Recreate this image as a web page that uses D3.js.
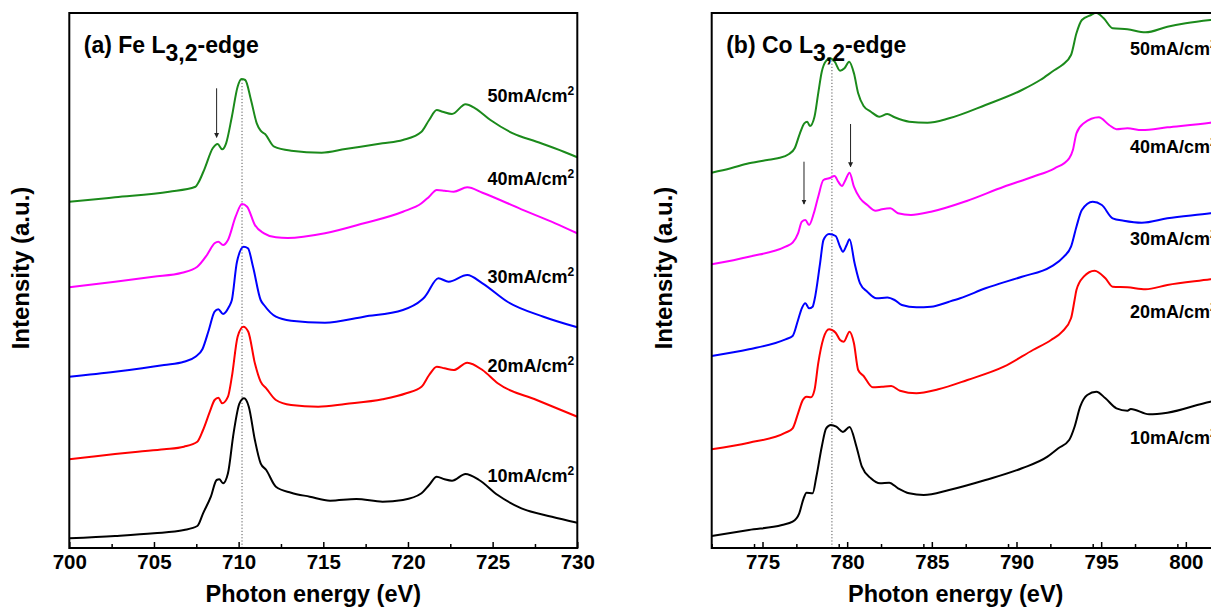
<!DOCTYPE html>
<html><head><meta charset="utf-8">
<script src="https://cdn.jsdelivr.net/npm/d3@7"></script>
<style>
body{margin:0;background:#fff;}
svg{display:block;font-family:Arial,"Liberation Sans",Helvetica,sans-serif;}
</style></head><body>
<svg id="chart" width="1211" height="607"></svg>
<script>
// ---------- DATA ----------
const feTicks = [700,705,710,715,720,725,730];
const coTicks = [775,780,785,790,795,800];
const currentLabels = ["10mA/cm","20mA/cm","30mA/cm","40mA/cm","50mA/cm"];
const seriesColors = ["#000000","#ff0000","#0000ff","#ff00ff","#1b8a1b"];

// Fe L-edge spectra: [photon energy (eV), intensity (a.u., offset stacked)]
const fe10 = [[700,9.7],[702.7,12],[705,14.7],[706.77,18],[707.56,22],[707.9,34.7],[708.36,51.3],[708.7,68],[708.86,68.7],[709.08,64.7],[709.37,74.7],[709.7,114.7],[710.05,144.7],[710.32,149.7],[710.6,141.3],[710.96,108],[711.3,84.7],[711.63,78],[712.2,61.3],[713.1,55.3],[714.2,51.3],[715.4,47.3],[716.95,49],[718.5,46.3],[719.7,48],[720.8,54.7],[721.25,63],[721.7,71.3],[722.16,68.7],[722.6,67.3],[723.4,74],[724.2,68],[725.3,53],[726.7,39.7],[728.5,31.3],[730,25.3]];
const fe20 = [[700,88.7],[701.3,91.3],[702.7,94],[704.05,96.3],[705.6,98.7],[706.77,101.3],[707.56,106.3],[707.9,118],[708.3,136.3],[708.58,148],[708.8,150.3],[709.03,144.7],[709.37,151.3],[709.6,171.3],[709.94,211.3],[710.28,221.3],[710.57,216.3],[710.96,184.7],[711.3,166.3],[711.63,159.7],[712.2,148],[713.1,143],[714.7,141.3],[716.3,144],[718.5,148.7],[719.9,154.7],[720.8,161.3],[721.25,173],[721.7,181.3],[722.16,179.7],[722.7,178],[723.5,185.3],[724.4,178],[725.3,164.7],[727.6,148],[730,131.3]];
const fe30 = [[700,171.3],[702.7,176.3],[705.6,183],[706.77,186.3],[707.45,191.3],[707.86,198.7],[708.24,218],[708.58,236.3],[708.8,238.7],[709.08,234],[709.43,241.3],[709.6,248],[709.9,286],[710.3,301.3],[710.55,299.7],[710.85,281.3],[711.3,248],[711.5,243],[712.2,231.3],[713.1,227.3],[715.1,225.3],[717.4,231.3],[719.7,238],[720.8,248],[721.0,251.3],[721.8,269.7],[722.4,266.3],[723.5,273],[724.4,264.7],[725.9,246],[728.0,231.3],[730,220.7]];
const fe40 = [[700,260.7],[702.7,266.3],[704.96,271.3],[706.66,275.3],[707.56,281.3],[708.13,293],[708.58,304.7],[708.8,306.3],[709.08,303],[709.37,308],[709.82,331.3],[710.2,344],[710.5,341.3],[710.96,323],[711.5,314.7],[712.2,310.7],[712.9,310],[715.1,314.7],[717.4,324.7],[719.7,336.3],[720.8,344.7],[721.25,351.3],[721.7,358],[722.16,357.3],[722.7,356.3],[723.5,360.7],[724.4,355.3],[726.7,338.7],[728.7,324.7],[730,314.7]];
const fe50 = [[700,346.3],[701.1,348],[702.7,350.7],[705.9,356.3],[707.45,361.3],[707.6,364.7],[708.0,379.7],[708.47,399.7],[708.76,404],[709.03,398.7],[709.26,404.7],[709.6,431.3],[709.94,461.3],[710.17,469],[710.39,468],[710.73,448],[711.07,424.7],[711.3,417.3],[711.56,414],[712.1,401.3],[713.1,397.3],[714.9,395.3],[716.3,399],[718.5,404.7],[719.7,408],[720.8,416.3],[721.25,428],[721.7,438],[722.04,436.3],[722.6,434],[723.4,443.7],[723.97,439.7],[724.87,428],[726.2,414.7],[727.6,406.3],[729.2,396.3],[730,390.7]];

// Co L-edge spectra
const co10 = [[772,12],[774.2,18],[776.15,23],[776.78,26.3],[777.17,34.7],[777.43,49.7],[777.6,55.3],[777.96,54.7],[778.18,71.3],[778.5,101.3],[778.76,119.7],[779.04,123],[779.36,121.3],[779.75,116],[780.14,121],[780.55,101.3],[780.87,81.3],[781.4,69.7],[781.94,64.7],[782.48,65.3],[783.0,59.7],[783.66,54.7],[784.52,53],[786.02,58],[788.17,68],[790.32,79.7],[791.83,91.3],[792.47,99.7],[793.11,108],[793.43,121.3],[793.76,141.3],[794.18,153],[794.72,156.3],[795.25,149.7],[795.9,139.7],[796.55,137.3],[796.75,139],[797.83,133.7],[798.91,135.3],[801.45,146.3],[802,148]];
const co20 = [[772,98.7],[774.2,105.3],[776.36,115.3],[776.78,119.7],[777.1,134.7],[777.38,148],[777.6,151.3],[777.86,150.7],[778.07,158],[778.29,184.7],[778.6,209.7],[778.93,218.7],[779.32,215.3],[779.58,208],[779.8,206.3],[780.14,216.3],[780.4,204.7],[780.65,178],[780.97,172],[781.51,160.7],[782.05,161.3],[782.6,162],[783.12,157.3],[784.09,154.7],[785.38,158.7],[787.1,168],[789.25,181.3],[790.97,198],[792.04,208],[792.7,216.3],[793.22,229.7],[793.43,248],[793.54,258],[793.97,271.3],[794.61,277.3],[795.25,269.7],[795.68,261.3],[796.55,260.7],[797.62,258.7],[798.91,263],[801.45,268.7],[802,270]];
const co30 = [[772,192],[774.2,198.7],[776.36,208.7],[776.78,212],[777.1,228],[777.32,239.7],[777.53,244.7],[777.75,239.7],[777.96,241.3],[778.07,248],[778.4,284.7],[778.6,308],[778.93,314],[779.32,312],[779.58,301.3],[779.75,296.3],[779.97,303],[780.14,308.7],[780.44,284.7],[780.76,264.7],[781.19,256.3],[781.73,249.7],[782.37,250.5],[782.8,248],[783.23,243],[784.09,240.7],[784.95,241.3],[786.02,246.3],[786.67,249.7],[788.17,259.7],[790.32,271.3],[792.04,281.3],[792.8,291.3],[793.22,301.3],[793.54,321.3],[793.86,338],[794.5,346.3],[795.04,343],[795.68,329.7],[796.33,327.3],[797.4,325.3],[798.91,329.7],[801.45,334.7],[802,336]];
const co40 = [[772,283.7],[774.2,291.3],[776.36,301.3],[776.78,305.3],[777.1,314.7],[777.32,326.3],[777.53,328],[777.75,323],[778.03,334.7],[778.29,351.3],[778.6,368],[778.93,369.7],[779.26,372],[779.47,366.3],[779.69,362],[779.9,368],[780.14,375.3],[780.4,361.3],[780.76,349.7],[781.19,343],[781.68,337.3],[782.05,338.7],[782.55,339.7],[783.0,334.7],[783.77,333],[784.95,336.3],[787.1,347.3],[789.25,361.3],[790.97,371.3],[792.25,379.7],[793.11,389.7],[793.33,398],[793.54,414.7],[793.97,424.7],[794.86,430.7],[795.47,423],[795.9,418.7],[796.55,419.7],[797.4,418],[798.91,420.7],[801.45,425.3],[802,426.5]];
const co50 = [[772,375.3],[773.13,379.7],[774.2,384.7],[775.28,388],[775.9,389.7],[776.57,394],[776.9,399.7],[777.21,414.7],[777.47,424.7],[777.64,426.3],[777.8,422],[778.07,431.3],[778.29,454.7],[778.5,476.3],[778.72,486.3],[779.0,489.7],[779.26,486.3],[779.58,477.3],[779.84,479.7],[780.12,486.3],[780.4,474.7],[780.65,454.7],[780.97,442],[781.4,436.3],[781.9,431.3],[782.37,434],[782.8,430.7],[783.66,426.3],[784.74,425.3],[786.02,429.7],[788.17,443],[790.32,458],[791.4,468],[792.25,478],[792.7,483],[793.22,493],[793.54,514.7],[793.86,528],[794.4,533],[794.7,535.3],[795.15,529.7],[795.68,519.7],[796.55,518.7],[797.62,515.7],[798.91,521.3],[799.99,524.7],[801.45,528],[802,529]];

// reference guides: dotted line [energy, top intensity]; arrows [energy, from, to]
const feGuide = [710.2, 469];
const coGuide = [779.1, 489];
const feArrows = [[708.7, 459.7, 410.7]];
const coArrows = [[777.45, 386.3, 344], [780.2, 424, 381.3]];

// ---------- LAYOUT ----------
const plotTop = 13, plotBottom = 548, plotW = 508;
const panels = [
  {id:"a", left:69.3, domain:[700,730], ticks:feTicks, series:[fe10,fe20,fe30,fe40,fe50],
   guide:feGuide, arrows:feArrows, elem:"Fe",
   labelY:[481.7,371.7,282.7,185.3,102], yTitleX:29},
  {id:"b", left:711.7, domain:[772,802], ticks:coTicks, series:[co10,co20,co30,co40,co50],
   guide:coGuide, arrows:coArrows, elem:"Co",
   labelY:[444,318.3,245,152.7,55], yTitleX:671.5}
];

const svg = d3.select("#chart");
const defs = svg.append("defs");
defs.append("marker").attr("id","arrowhead").attr("viewBox","0 0 8 8")
  .attr("refX",7).attr("refY",4).attr("markerWidth",5).attr("markerHeight",6)
  .attr("markerUnits","userSpaceOnUse").attr("orient","auto")
  .append("path").attr("d","M0,0 L8,4 L0,8 Z").attr("fill","#222");

const yScale = d3.scaleLinear().domain([0,535]).range([plotBottom, plotTop]);

panels.forEach(p => {
  const x = d3.scaleLinear().domain(p.domain).range([p.left, p.left + plotW]);
  const y = yScale;
  const g = svg.append("g");
  const clipId = "clip-" + p.id;
  defs.append("clipPath").attr("id", clipId).append("rect")
    .attr("x", p.left).attr("y", plotTop).attr("width", plotW).attr("height", plotBottom - plotTop);

  // dotted guide line
  g.append("line")
    .attr("x1", x(p.guide[0])).attr("x2", x(p.guide[0]))
    .attr("y1", y(0)).attr("y2", y(p.guide[1]))
    .attr("stroke","#555").attr("stroke-width",1).attr("stroke-dasharray","1.2,2");

  // curves
  const line = d3.line().x(d => x(d[0])).y(d => y(d[1])).curve(d3.curveMonotoneX);
  const cg = g.append("g").attr("clip-path", `url(#${clipId})`);
  p.series.forEach((s, i) => {
    cg.append("path").datum(s).attr("d", line)
      .attr("fill","none").attr("stroke", seriesColors[i])
      .attr("stroke-width",2).attr("stroke-linejoin","round");
  });

  // arrows
  p.arrows.forEach(a => {
    g.append("line").attr("x1", x(a[0])).attr("x2", x(a[0]))
      .attr("y1", y(a[1])).attr("y2", y(a[2]))
      .attr("stroke","#222").attr("stroke-width",1).attr("marker-end","url(#arrowhead)");
  });

  // frame
  g.append("rect").attr("x", p.left).attr("y", plotTop).attr("width", plotW).attr("height", plotBottom - plotTop)
    .attr("fill","none").attr("stroke","#000").attr("stroke-width",2);

  // minor ticks
  const minors = d3.range(p.domain[0], p.domain[1] + 0.01, 2.5).filter(v => Math.abs(v % 5) > 0.01);
  const minorAxis = d3.axisBottom(x).tickValues(minors).tickSize(-4).tickFormat("");
  const ma = g.append("g").attr("transform", `translate(0,${plotBottom})`).call(minorAxis);
  ma.select(".domain").remove();
  ma.selectAll("line").attr("stroke","#000").attr("stroke-width",1.5);

  // major ticks + labels
  const majorAxis = d3.axisBottom(x).tickValues(p.ticks).tickSize(-6).tickFormat(d3.format("d"));
  const mg = g.append("g").attr("transform", `translate(0,${plotBottom})`).call(majorAxis);
  mg.select(".domain").remove();
  mg.selectAll("line").attr("stroke","#000").attr("stroke-width",1.5);
  mg.selectAll("text").attr("y", 21).attr("dy", 0)
    .attr("font-size", 20.5).attr("font-weight","bold").attr("font-family","Arial, 'Liberation Sans', sans-serif")
    .attr("fill","#000");

  // x title
  g.append("text").attr("x", p.left + plotW/2 - 10).attr("y", 601.5)
    .attr("text-anchor","middle").attr("font-size",23.5).attr("font-weight","bold")
    .text("Photon energy (eV)");

  // y title
  g.append("text").attr("transform", `translate(${p.yTitleX},268) rotate(-90)`)
    .attr("text-anchor","middle").attr("font-size",24).attr("font-weight","bold")
    .text("Intensity (a.u.)");

  // panel title
  const pt = g.append("text").attr("x", p.left + 14.5).attr("y", 53)
    .attr("font-size",23).attr("font-weight","bold");
  pt.append("tspan").text(`(${p.id}) ${p.elem} L`);
  pt.append("tspan").attr("dy",8).text("3,2");
  pt.append("tspan").attr("dy",-8).text("-edge");

  // series labels
  currentLabels.forEach((lab, i) => {
    const t = g.append("text").attr("x", p.left + plotW - 3).attr("y", p.labelY[i])
      .attr("text-anchor","end").attr("font-size",18).attr("font-weight","bold");
    t.append("tspan").text(lab);
    t.append("tspan").attr("dy",-7).attr("font-size",12).text("2");
  });
});
</script>
</body></html>
